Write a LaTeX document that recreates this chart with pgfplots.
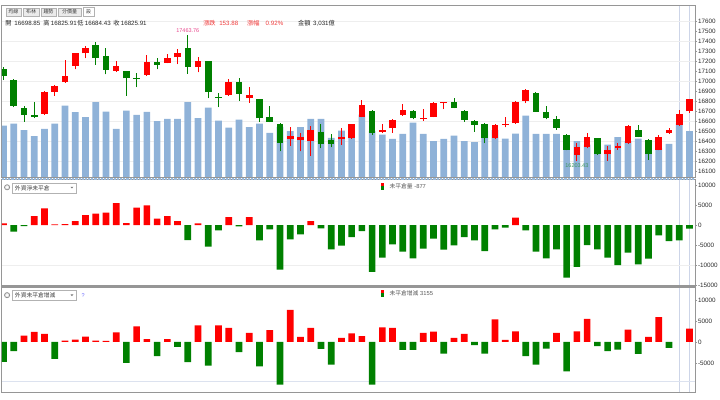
\documentclass[border=0pt]{standalone}
\usepackage{fontspec}
\setmainfont{Liberation Sans}
\newfontfamily\cjk{Noto Sans CJK TC}
\usepackage{pgfplots}
\usepackage{pgfplotstable}
\pgfplotsset{compat=1.18}
\newcommand\fs[1]{\fontsize{#1}{#1}\selectfont}

\definecolor{upred}{RGB}{255,0,0}
\definecolor{dngreen}{RGB}{0,128,0}
\definecolor{volblue}{RGB}{143,178,216}
\definecolor{framegray}{RGB}{150,150,150}
\definecolor{gridgray}{RGB}{238,238,238}
\definecolor{cursor}{RGB}{205,213,232}
\definecolor{hipink}{RGB}{232,70,140}
\definecolor{logreen}{RGB}{60,150,90}
\definecolor{txtred}{RGB}{240,60,60}
\definecolor{txtdark}{RGB}{40,40,40}

% up (red) candles: x open high low close
\pgfplotstableread{
x open high low close
4 16674 16899 16667 16893
5 16896 16962 16856 16956
6 16989 17211 16985 17055
7 17151 17284 17118 17277
8 17277 17350 17228 17327
11 17101 17204 17095 17155
14 17062 17261 17055 17188
16 17184 17271 17178 17231
17 17237 17317 17168 17284
19 17138 17244 17088 17204
22 16863 17019 16856 16989
24 16830 16946 16786 16863
28 16428 16538 16358 16455
29 16415 16481 16299 16448
30 16405 16548 16256 16514
33 16422 16528 16365 16441
34 16431 16577 16425 16571
35 16647 16813 16640 16763
37 16494 16574 16488 16514
38 16528 16620 16488 16614
39 16660 16773 16654 16713
41 16624 16720 16607 16637
42 16647 16793 16640 16786
43 16780 16793 16720 16790
48 16431 16571 16425 16564
49 16564 16640 16538 16574
50 16581 16803 16574 16796
51 16806 16919 16780 16912
56 16266 16382 16203.43 16342
57 16342 16488 16332 16448
59 16272 16349 16206 16309
60 16332 16388 16315 16355
61 16382 16564 16375 16554
64 16315 16465 16309 16448
65 16481 16531 16475 16514
66 16564 16713 16557 16672
67 16698.85 16825.91 16684.43 16825.91
}\upc

% down (green) candles: x open high low close
\pgfplotstableread{
x open high low close
0 17121 17138 17012 17055
1 17012 17019 16740 16757
2 16730 16753 16597 16664
3 16660 16790 16631 16644
9 17360 17393 17161 17228
10 17254 17327 17068 17111
12 17098 17105 16856 17028
13 17032 17085 16939 17024
15 17194 17234 17118 17161
18 17327 17463.76 17072 17145
20 17201 17204 16830 16889
21 16843 16879 16740 16833
23 16995 17028 16803 16873
25 16820 16826 16597 16630
26 16640 16753 16591 16597
27 16574 16581 16299 16388
31 16498 16571 16332 16375
32 16415 16471 16339 16375
36 16703 16710 16465 16481
40 16703 16713 16620 16630
44 16790 16830 16730 16737
45 16707 16713 16597 16614
46 16604 16614 16498 16564
47 16571 16581 16382 16431
52 16886 16889 16693 16697
53 16697 16753 16620 16630
54 16620 16654 16514 16531
55 16465 16475 16309 16315
58 16431 16438 16266 16272
62 16514 16564 16441 16448
63 16415 16422 16216 16272
}\dnc

% turnover (100 million NTD)
\pgfplotstableread{
x vol
0 3401
1 3534
2 3096
3 2698
4 3182
5 3534
6 4727
7 4290
8 3958
9 4953
10 4329
11 3182
12 4396
13 4111
14 4310
15 3693
16 3845
17 3845
18 4953
19 3892
20 4595
21 3733
22 3269
23 3799
24 3295
25 3534
26 2917
27 3315
28 3030
29 3295
30 3845
31 3845
32 2586
33 3070
34 2765
35 4130
36 3030
37 2804
38 2519
39 2851
40 3600
41 2851
42 2367
43 2519
44 2738
45 2367
46 2301
47 3070
48 3096
49 2539
50 2871
51 4064
52 2851
53 2851
54 2851
55 1923
56 2367
57 2141
58 1658
59 2141
60 2632
61 2367
62 2539
63 1923
64 1923
65 2188
66 3580
67 3031
}\voltab

% net open interest
\pgfplotstableread{
x oi
0 400
1 -1670
2 -300
3 2250
4 4170
5 170
6 250
7 1000
8 2500
9 2830
10 3080
11 5500
12 500
13 4330
14 4920
15 1580
16 2250
17 1000
18 -3750
19 420
20 -5420
21 -1330
22 2000
23 -330
24 2000
25 -3830
26 -1080
27 -11170
28 -3580
29 -2330
30 1000
31 -830
32 -6080
33 -5170
34 -3000
35 -1500
36 -11750
37 -8170
38 -4830
39 -6670
40 -8330
41 -5920
42 -3420
43 -6170
44 -5080
45 -3000
46 -3830
47 -6500
48 -1080
49 -670
50 1830
51 -1330
52 -6670
53 -8330
54 -6080
55 -13170
56 -10500
57 -5000
58 -6080
59 -8170
60 -10000
61 -6920
62 -9830
63 -8420
64 -2580
65 -4000
66 -3830
67 -877
}\oitab

% change of open interest
\pgfplotstableread{
x doi
0 -4760
1 -2220
2 1510
3 2380
4 1900
5 -4050
6 320
7 560
8 1270
9 320
10 240
11 2300
12 -5000
13 3730
14 640
15 -3410
16 640
17 -1190
18 -4840
19 3970
20 -5640
21 3970
22 3330
23 -2460
24 2140
25 -5800
26 2780
27 -10160
28 7620
29 1190
30 3330
31 -1670
32 -5400
33 950
34 2060
35 1350
36 -10160
37 3490
38 3330
39 -1900
40 -1900
41 2140
42 2460
43 -2780
44 950
45 1900
46 -790
47 -2780
48 5400
49 480
50 2540
51 -3410
52 -5400
53 -1590
54 2140
55 -6990
56 2540
57 5480
58 -1030
59 -2220
60 -1830
61 2940
62 -2860
63 1190
64 5880
65 -1430
66 0
67 3155
}\doitab

\pgfplotsset{
  panel/.style={
    set layers,
    scale only axis, width=694pt, anchor=south west,
    xmin=-0.17, xmax=67.54,
    xtick=\empty,
    axis line style={framegray, line width=0.8pt},
    ytick pos=right, yticklabel pos=right,
    tick align=outside, major tick length=2pt,
    tick style={framegray, line width=0.5pt},
    yticklabel style={font=\fs{6.3}, text=txtdark, inner sep=0.8pt},
    /pgf/number format/1000 sep={},
    /pgf/number format/assume math mode=true,
    scaled y ticks=false,
    extra x ticks={66,67}, extra x tick labels={},
    extra x tick style={grid=major, major grid style={cursor, line width=0.9pt}, major tick length=0pt},
  },
  candle/.style={only marks, mark=*, mark size=0pt, mark options={draw=none, fill=none}, forget plot,
    error bars/.cd, y dir=plus, y explicit, error mark=none},
}

\begin{document}
\begin{tikzpicture}[x=1pt,y=1pt]
\path (0,0) rectangle (720,396);

% ---------- volume (behind candles)
\begin{axis}[set layers, scale only axis, width=694pt, height=173pt, at={(1pt,218pt)}, anchor=south west,
  xmin=-0.17, xmax=67.54, ymin=-66, ymax=11404, hide axis]
\addplot[ybar, bar width=6.7pt, bar shift=0pt, fill=volblue, draw=none] table[x=x, y=vol] {\voltab};
\end{axis}

% ---------- price panel
\begin{axis}[panel, height=173pt, at={(1pt,218pt)},
  ymin=16037, ymax=17758, ytick={16100,16200,...,17600},
  extra y ticks={16200,16400,...,17600}, extra y tick labels={},
  extra y tick style={grid=major, major grid style={gridgray, line width=0.6pt}, major tick length=0pt}]
\addplot[candle, error bar style={upred, line width=0.9pt}]
  table[x=x, y=low, y error plus expr=\thisrow{high}-\thisrow{low}] {\upc};
\addplot[candle, error bar style={upred, line width=6.6pt}]
  table[x=x, y=open, y error plus expr=\thisrow{close}-\thisrow{open}] {\upc};
\addplot[candle, error bar style={dngreen, line width=0.9pt}]
  table[x=x, y=low, y error plus expr=\thisrow{high}-\thisrow{low}] {\dnc};
\addplot[candle, error bar style={dngreen, line width=6.6pt}]
  table[x=x, y=close, y error plus expr=\thisrow{open}-\thisrow{close}] {\dnc};
\node[anchor=south, font=\fs{5.5}, text=hipink, inner sep=0.5pt, yshift=1pt] at (axis cs:18,17463.76) {17463.76};
\node[anchor=north, font=\fs{5.5}, text=logreen, inner sep=0.5pt, yshift=-1.5pt] at (axis cs:56,16203.43) {16203.43};
\end{axis}

% ---------- net open interest panel
\begin{axis}[panel, height=106pt, at={(1pt,110pt)},
  ymin=-15175, ymax=11325, ytick={-15000,-10000,-5000,0,5000,10000},
  extra y ticks={-10000}, extra y tick labels={},
  extra y tick style={grid=major, major grid style={gridgray, line width=0.6pt}, major tick length=0pt}]
\addplot[ybar, bar width=6.7pt, bar shift=0pt, fill=upred, draw=none, restrict y to domain=1:100000] table[x=x, y=oi] {\oitab};
\addplot[ybar, bar width=6.7pt, bar shift=0pt, fill=dngreen, draw=none, restrict y to domain=-100000:-1] table[x=x, y=oi] {\oitab};
\end{axis}

% ---------- change of open interest panel
\begin{axis}[panel, height=105pt, at={(1pt,3pt)},
  ymin=-12067, ymax=12923, ytick={-5000,0,5000,10000},
  extra y ticks={-9400}, extra y tick labels={},
  extra y tick style={grid=major, major grid style={cursor!70, line width=0.6pt}, major tick length=0pt}]
\addplot[ybar, bar width=6.7pt, bar shift=0pt, fill=upred, draw=none, restrict y to domain=1:100000] table[x=x, y=doi] {\doitab};
\addplot[ybar, bar width=6.7pt, bar shift=0pt, fill=dngreen, draw=none, restrict y to domain=-100000:-1] table[x=x, y=doi] {\doitab};
\end{axis}

% ---------- separators
\draw[volblue!90, line width=1.6pt, dash pattern=on 2.2pt off 1pt] (1,217) -- (695,217);
\draw[framegray, line width=1.6pt] (0,108.8) -- (696,108.8);

% ---------- tabs
\foreach \a/\b/\t in {5/20/均線, 22.5/38/布林, 40/55.5/趨勢, 57.5/80.5/分價量}{
  \draw[fill=black!8, draw=black!30, line width=0.4pt] (\a,380) rectangle (\b,388);
  \node[font=\cjk\fs{5}, text=black!75, inner sep=0pt] at ({(\a+\b)/2},384) {\t};
}
\draw[fill=white, draw=black!30, line width=0.4pt] (82.5,380) rectangle (93.5,388.5);
\node[font=\cjk\fs{5}, text=black!75, inner sep=0pt] at (88,384) {設};

% ---------- info line
\begin{scope}[every node/.style={anchor=base west, inner sep=0pt, font=\fs{6.2}, text=txtdark}]
\node at (4.5,370) {\cjk 開};
\node at (13.5,370) {16698.85};
\node at (42.5,370) {\cjk 高};
\node at (50,370) {16825.91};
\node at (76.5,370) {\cjk 低};
\node at (84,370) {16684.43};
\node at (112.5,370) {\cjk 收};
\node at (120,370) {16825.91};
\node[text=txtred] at (202.5,370) {\cjk 漲跌};
\node[text=txtred] at (218.5,370) {153.88};
\node[text=txtred] at (246.5,370) {\cjk 漲幅};
\node[text=txtred] at (265,370) {0.92\%};
\node at (297.5,370) {\cjk 金額};
\node at (312.5,370) {3,031{\cjk 億}};
\end{scope}

% ---------- panel 2 header
\draw[black!45, line width=0.7pt, fill=black!10] (6.3,208.5) circle (2.6);
\fill[white] (6.3,208.5) circle (1.2);
\draw[fill=white, draw=black!30, line width=0.4pt] (11,203) rectangle (75,213);
\node[anchor=west, inner sep=0pt, font=\cjk\fs{5.8}, text=black!75] at (14,208) {外資淨未平倉};
\fill[black!55] (69.8,209) -- (72.6,209) -- (71.2,207.3) -- cycle;
\fill[upred] (380.5,209.6) rectangle (383.5,213);
\fill[dngreen] (380.5,206) rectangle (383.5,209.4);
\node[anchor=west, inner sep=0pt, font=\fs{5.8}, text=black!65] at (389,209.5) {{\cjk 未平倉量} -877};

% ---------- panel 3 header
\draw[black!45, line width=0.7pt, fill=black!10] (6.3,100.5) circle (2.6);
\fill[white] (6.3,100.5) circle (1.2);
\draw[fill=white, draw=black!30, line width=0.4pt] (11,95) rectangle (75,105.5);
\node[anchor=west, inner sep=0pt, font=\cjk\fs{5.8}, text=black!75] at (14,100.2) {外資未平倉增減};
\fill[black!55] (69.8,101.2) -- (72.6,101.2) -- (71.2,99.5) -- cycle;
\node[inner sep=0pt, font=\fs{5.5}, text=blue!60] at (82.5,100.5) {?};
\fill[upred] (380.5,102.5) rectangle (383.5,106);
\fill[dngreen] (380.5,98.8) rectangle (383.5,102.3);
\node[anchor=west, inner sep=0pt, font=\fs{5.8}, text=black!65] at (389,102.5) {{\cjk 未平倉增減} 3155};
\end{tikzpicture}
\end{document}
